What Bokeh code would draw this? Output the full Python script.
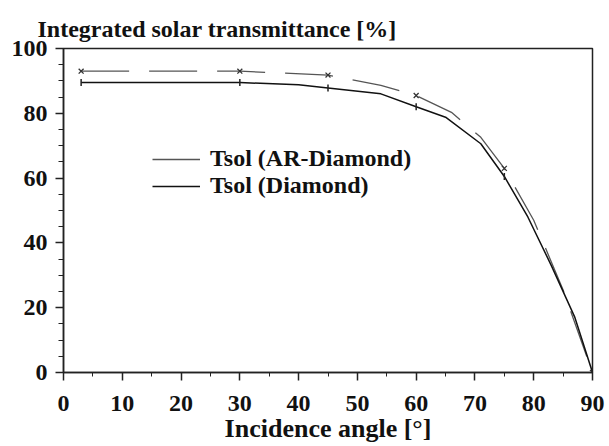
import math
from bokeh.plotting import figure
from bokeh.models import Range1d, Legend, LegendItem, FixedTicker
from bokeh.embed import file_html
from bokeh.resources import INLINE

# Data
angle_ar = [3, 30, 45, 54, 60, 66, 71, 75, 80, 85, 90]
tsol_ar = [93, 93, 91.8, 88.6, 85.5, 80.3, 72.6, 63, 47, 25.5, 0]
angle_dia = [3, 30, 40, 45, 54, 60, 65, 71, 75, 79, 83, 87, 90]
tsol_dia = [89.5, 89.5, 88.8, 87.8, 86, 82, 78.8, 70.6, 60.5, 48, 33, 17, 0]
mark_angles = [3, 30, 45, 60, 75, 90]
mark_ar = [93, 93, 91.8, 85.5, 63, 0]
mark_dia = [89.5, 89.5, 87.8, 82, 60.5, 0]
x_ticks = list(range(0, 91, 10))
y_ticks = list(range(0, 101, 20))

FONT = "Liberation Serif"

p = figure(width=609, height=446, output_backend="svg", toolbar_location=None,
           x_range=Range1d(0, 90), y_range=Range1d(0, 100),
           min_border_left=63, min_border_right=17, min_border_top=48, min_border_bottom=74,
           title="Integrated solar transmittance [%]")

p.title.text_font = FONT
p.title.text_font_style = "bold"
p.title.text_font_size = "24px"
p.title.align = "left"
p.title.offset = -26
p.title.standoff = 14
p.title.text_color = "#111111"

p.grid.visible = False
p.outline_line_color = "#222222"
p.outline_line_width = 1.5
p.background_fill_color = "white"
p.border_fill_color = "white"

# x axis
xa = p.xaxis[0]
xa.ticker = FixedTicker(ticks=x_ticks, minor_ticks=list(range(0, 91, 5)))
xa.axis_label = "Incidence angle [°]"
xa.axis_label_text_font = FONT
xa.axis_label_text_font_style = "bold"
xa.axis_label_text_font_size = "26px"
xa.axis_label_text_color = "#111111"
xa.axis_label_standoff = 0
xa.major_label_text_font = FONT
xa.major_label_text_font_style = "bold"
xa.major_label_text_font_size = "24px"
xa.major_label_text_color = "#111111"
xa.major_label_standoff = 15
xa.major_tick_out = 8
xa.major_tick_in = 0
xa.minor_tick_out = 4
xa.minor_tick_in = 0
xa.axis_line_width = 1.5
xa.axis_line_color = "#222222"
xa.major_tick_line_color = "#222222"
xa.minor_tick_line_color = "#222222"
xa.major_tick_line_width = 1.5

# y axis
ya = p.yaxis[0]
ya.ticker = FixedTicker(ticks=y_ticks, minor_ticks=list(range(0, 101, 5)))
ya.major_label_text_font = FONT
ya.major_label_text_font_style = "bold"
ya.major_label_text_font_size = "24px"
ya.major_label_text_color = "#111111"
ya.major_label_standoff = 8
ya.major_tick_out = 8
ya.major_tick_in = 0
ya.minor_tick_out = 5
ya.minor_tick_in = 0
ya.axis_line_width = 1.5
ya.axis_line_color = "#222222"
ya.major_tick_line_color = "#222222"
ya.minor_tick_line_color = "#222222"
ya.major_tick_line_width = 1.5

# series
r_ar = p.line(angle_ar, tsol_ar, line_color="#555555", line_width=1.3, line_dash="48 20")
r_dia = p.line(angle_dia, tsol_dia, line_color="#111111", line_width=1.5)
p.scatter(mark_angles, mark_ar, marker="x", size=7, line_color="#333333", line_width=1.3)
p.scatter(mark_angles, mark_dia, marker="dash", angle=math.pi / 2, size=7,
          line_color="#222222", line_width=1.5)

legend = Legend(items=[LegendItem(label="Tsol (AR-Diamond)", renderers=[r_ar]),
                       LegendItem(label="Tsol (Diamond)", renderers=[r_dia])],
                location=(89, 173))
legend.label_text_font = FONT
legend.label_text_font_style = "bold"
legend.label_text_font_size = "24px"
legend.label_text_color = "#111111"
legend.glyph_width = 48
legend.glyph_height = 22
legend.label_height = 22
legend.label_standoff = 10
legend.spacing = -2
legend.padding = 0
legend.margin = 0
legend.border_line_color = None
legend.background_fill_alpha = 0
p.add_layout(legend, "center")

open("out.html", "w").write(file_html(p, INLINE))
